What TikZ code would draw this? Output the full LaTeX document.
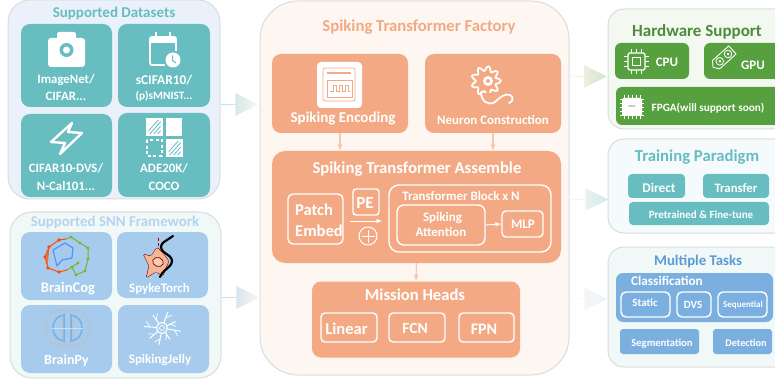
\documentclass[tikz,border=0pt]{standalone}
\usepackage{fontspec}
\setmainfont{Carlito}
\usetikzlibrary{shapes.arrows,positioning,calc}
\definecolor{teal1}{HTML}{67BDC0}
\definecolor{sky1}{HTML}{A6CBEC}
\definecolor{sky2}{HTML}{B3D4F0}
\definecolor{peach1}{HTML}{F3AA84}
\definecolor{peach2}{HTML}{F7C6AC}
\definecolor{leaf1}{HTML}{57A03F}
\definecolor{leaf2}{HTML}{4C8C3A}
\definecolor{blue1}{HTML}{7BAFE0}
\definecolor{blue2}{HTML}{5B9BD5}
\definecolor{edge1}{HTML}{DADDDD}
\definecolor{paleblue}{HTML}{EAF1FA}
\definecolor{paleteal}{HTML}{F1F8F8}
\definecolor{palepeach}{HTML}{FDF6F1}
\definecolor{paleleaf}{HTML}{F3F9F0}
\definecolor{palesky}{HTML}{F5FAFC}
\tikzset{
  panel/.style={draw=edge1,line width=1pt,rounded corners=#1,inner sep=0pt},
  tile/.style={fill=#1,rounded corners=9pt,inner sep=0pt},
  lab/.style 2 args={text=white,font=\bfseries\fontsize{#1}{#2}\selectfont,align=center,inner sep=0pt},
  head/.style 2 args={text=#2,font=\bfseries\fontsize{#1}{#1}\selectfont,inner sep=0pt},
  ring/.style={draw=white,line width=1.4pt,rounded corners=5pt,inner sep=0pt},
  bigarrow/.style={single arrow,single arrow head extend=6pt,single arrow tip angle=53,inner sep=0pt,minimum height=37pt,minimum width=23pt},
  thinarrow/.style={->,>=latex,peach2,line width=1.2pt},
  whitearrow/.style={->,>=latex,white,line width=1pt},
}
\newcommand{\hatchsq}[2]{%
  \fill[white] (#1,#2) rectangle ++(17,18);
  \begin{scope}
    \clip (#1+2.5,#2+2.5) rectangle ++(12,13);
    \foreach \k in {0,4,...,28} {
      \draw[teal1,line width=0.8pt] (#1+\k-2,#2+18) -- (#1+\k+14,#2);
    }
  \end{scope}
}
\begin{document}
\begin{tikzpicture}[x=1pt,y=-1pt]
\useasboundingbox (0,0) rectangle (775,379);

% panels
\node[panel=22pt,fill=paleblue,minimum width=212,minimum height=199] (datasets) at (114,99.5) {};
\node[panel=22pt,fill=paleteal,minimum width=211,minimum height=166] (framework) at (115.5,295) {};
\node[panel=38pt,fill=palepeach,minimum width=309,minimum height=374] (factory) at (414.5,188) {};
\node[panel=16pt,fill=paleleaf,minimum width=190,minimum height=120] (hardware) at (703,69) {};
\node[panel=16pt,fill=palesky,minimum width=190,minimum height=94] (training) at (703,186) {};
\node[panel=16pt,fill=paleteal,minimum width=190,minimum height=120] (tasks) at (703,307) {};

% wide arrows
\node[bigarrow,left color=teal1!45!white,right color=palepeach] (arrowData) at (239.5,104.5) {};
\node[bigarrow,left color=sky1!70!white,right color=palepeach] (arrowSnn) at (240.5,297.5) {};
\node[bigarrow,left color=palepeach,right color=leaf1!28!white] (arrowHw) at (588,76.5) {};
\node[bigarrow,left color=palepeach,right color=teal1!32!white] (arrowTrain) at (589.5,199.5) {};
\node[bigarrow,left color=palepeach,right color=blue1!14!white] (arrowTask) at (588.5,299) {};

% left top
\node[head={15}{teal1}] (datasetsTitle) at (114,13.5) {Supported Datasets};
\node[tile=teal1,minimum width=91,minimum height=83] (imagenet) at (66.5,65.5) {};
\node[tile=teal1,minimum width=92,minimum height=83] (scifar) at (164,65.5) {};
\node[tile=teal1,minimum width=91,minimum height=83] (dvs) at (66.5,155.5) {};
\node[tile=teal1,minimum width=92,minimum height=84] (ade) at (164,155) {};
\node[lab={12.8}{17}] (imagenetText) at (66,87.5) {ImageNet/\\CIFAR...};
\node[lab={13.4}{13.4}] (scifarText) at (164,80) {sCIFAR10/};
\node[lab={11.3}{11.3}] (smnistText) at (164,96.5) {(p)sMNIST...};
\node[lab={12.8}{18}] (dvsText) at (66,177) {CIFAR10-DVS/\\N-Cal101...};
\node[lab={12.8}{18}] (adeText) at (164,177) {ADE20K/\\COCO};

% camera
\fill[white,rounded corners=3pt] (48,38) rectangle (85,67);
\fill[white,rounded corners=2pt] (57,32) rectangle (76,42);
\fill[teal1] (66.5,50) circle (7);
\fill[white] (66.5,50) circle (3.5);
% calendar
\draw[white,line width=1.8pt,rounded corners=2pt] (165,65) -- (150,65) -- (150,37) -- (176,37) -- (176,52);
\fill[white] (150,37) rectangle (176,43);
\draw[white,line width=1.8pt] (156,32) -- (156,37) (170,32) -- (170,37);
\fill[teal1] (173,60) circle (9.5);
\fill[white] (173,60) circle (7.5);
\draw[teal1,line width=1pt] (172.5,55.5) -- (172.5,60.5) -- (176,63);
% lightning
\draw[white,line width=2.4pt,line join=round] (72,123) -- (51,142) -- (65,143) -- (60,154) -- (82,133) -- (68,132) -- cycle;
% squares
\hatchsq{146}{118}
\fill[white] (166,118) rectangle ++(16,18);
\draw[white,line width=1.6pt,dash pattern=on 3pt off 2.6pt] (147,140) rectangle (162,156);
\hatchsq{166}{139}

% left bottom
\node[head={14.9}{sky2}] (frameworkTitle) at (115,222.5) {Supported SNN Framework};
\node[tile=sky1,minimum width=91,minimum height=68] (braincog) at (66.5,266) {};
\node[tile=sky1,minimum width=91,minimum height=66] (spyke) at (162.5,265) {};
\node[tile=sky1,minimum width=91,minimum height=68] (brainpy) at (66.5,339) {};
\node[tile=sky1,minimum width=91,minimum height=68] (jelly) at (163.5,339) {};
\node[lab={14.6}{14.6}] (braincogText) at (68,289) {BrainCog};
\node[lab={13}{13}] (spykeText) at (159.5,289) {SpykeTorch};
\node[lab={14}{14}] (brainpyText) at (66.5,361) {BrainPy};
\node[lab={13}{13}] (jellyText) at (160,360) {SpikingJelly};

% braincog logo
\foreach \k in {0.2,0.4,0.6,0.8} {
  \draw[orange!60!red,line width=0.4pt] (49,247) -- ($(45,257)!\k!(48,268)$);
}
\draw[blue!60!cyan!70!white,line width=1.2pt,line join=round] (57,266) -- (53,250) -- (65,243) -- (73,248) -- (72,258) -- (62,260) -- cycle;
\draw[orange!60!red,line width=1pt] (66,239) -- (59,240) -- (49,247) -- (45,257) -- (48,268) -- (59,272) -- (67,270);
\draw[leaf1!80!yellow,line width=1pt] (66,239) -- (71,237) -- (80,243) -- (88,248) -- (88,259) -- (85,271) -- (76,275) -- (72,267) -- (78,263);
\draw[leaf1!80!yellow,line width=1pt] (67,270) -- (72,267);
\foreach \px/\py in {59/240,49/247,45/257,48/268,59/272} {
  \fill[orange!60!red] (\px,\py) circle (1.8);
}
\foreach \px/\py in {71/237,80/243,88/248,88/259,85/271,76/275,72/267,78/263} {
  \fill[leaf1!80!yellow] (\px,\py) circle (1.6);
}
% spyketorch logo
\fill[peach1!85!white,draw=red!50!black,line width=0.4pt,rounded corners=1.5pt] (143,254) -- (151,256) -- (157,247) -- (163,253) -- (169,261) -- (166,268) -- (163,276) -- (156,272) -- (146,278) -- (149,266) -- cycle;
\draw[red!50!black,line width=0.7pt,fill=peach1!60!white,rotate around={-20:(158,262)}] (158,262) ellipse (5.5 and 4.5);
\draw[red!60!black,line width=0.5pt,densely dashed] (158,238) -- (158,247);
\draw[black,line width=2.2pt,line cap=round,rounded corners=3pt] (173,236) -- (161,244) -- (161,250) -- (172,258) -- (172,264) -- (162,273) -- (160,277);
% brainpy logo
\draw[gray!50,line width=1pt] (66,311) .. controls (56,306) and (45,316) .. (45,328) .. controls (45,340) and (56,350) .. (66,345) .. controls (61,335) and (61,320) .. (66,311);
\draw[gray!50,line width=1pt] (69,311) .. controls (79,306) and (90,316) .. (90,328) .. controls (90,340) and (79,350) .. (69,345) .. controls (74,335) and (74,320) .. (69,311);
\draw[blue2!80!white,line width=1.5pt] (64,315) .. controls (57,316) and (53,321) .. (53,328) .. controls (53,335) and (57,340) .. (64,341) -- cycle;
\draw[blue2!80!white,line width=1.5pt] (71,315) .. controls (78,316) and (82,321) .. (82,328) .. controls (82,335) and (78,340) .. (71,341) -- cycle;
\draw[sky2!70!white,line width=0.6pt] (52,328) -- (83,328);
% spikingjelly logo
\begin{scope}[shift={(162,328)}]
  \draw[white,line width=1.1pt] (0,0) circle (5.5);
  \draw[white,line width=0.7pt] (0,0) circle (2.5);
  \foreach \a/\r in {10/19,55/14,100/17,140/16,185/18,235/16,290/17,335/15} {
    \draw[white,line width=1pt] (\a:5.5) -- (\a:\r);
    \draw[white,line width=0.7pt] (\a:\r-6) -- (\a+18:\r-1);
  }
\end{scope}

% factory
\node[head={16.7}{peach1}] (factoryTitle) at (419,27) {Spiking Transformer Factory};
\node[tile=peach1,minimum width=136,minimum height=79] (encoding) at (340,93.5) {};
\node[tile=peach1,minimum width=136,minimum height=79] (neuron) at (493,93.5) {};
\node[tile=peach1,minimum width=289,minimum height=112,rounded corners=13pt] (assemble) at (416.5,207) {};
\node[tile=peach1,minimum width=208,minimum height=76] (heads) at (416,319.5) {};
\node[lab={15}{15}] (encodingText) at (343,119) {Spiking Encoding};
\node[lab={12.9}{12.9}] (neuronText) at (493,120) {Neuron Construction};
\node[lab={16.7}{16.7}] (assembleText) at (417,169) {Spiking Transformer Assemble};
\node[lab={16.6}{16.6}] (headsText) at (415,295) {Mission Heads};

\draw[thinarrow] (encoding) -- (encoding |- assemble.north);
\draw[thinarrow] (neuron) -- (neuron |- assemble.north);
\draw[thinarrow] (assemble.south) -- (heads.north);

% encoding icon
\fill[white,rounded corners=4pt] (317,62) rectangle (362,108);
\draw[peach1,line width=0.7pt,rounded corners=2pt] (323,68) rectangle (355,101);
\draw[peach1,line width=1.3pt] (327,73) -- (351,73);
\draw[peach1,line width=0.7pt] (327,80) rectangle (352,97);
\draw[peach1,line width=0.7pt] (330,91.5) -- (333,91.5) -- (333,85.5) -- (336,85.5) -- (336,91.5) -- (339,91.5) -- (339,85.5) -- (342,85.5) -- (342,91.5) -- (345,91.5) -- (345,85.5) -- (348,85.5) -- (348,91.5) -- (350,91.5);
% neuron icon
\draw[white,line width=1.8pt,line join=round,shift={(486,81)}] plot[domain=0:360,samples=55] (\x:{12.5+2.5*cos(9*\x)});
\fill[white] (488,81) circle (5);
\fill[peach1] (488,81) circle (2);
\fill[peach1] (483,93) rectangle (492,97);
\draw[white,line width=1.8pt,line cap=round] (481,92) .. controls (481,102) and (489,106) .. (495,102) .. controls (500,97) and (506,93) .. (510,95) .. controls (514,97) and (513,102) .. (509,103);

% assemble inside
\node[ring,minimum width=55,minimum height=50] (patch) at (315.5,219) {};
\node[lab={16.5}{21},align=left,anchor=west] (patchText) at (295,220.5) {Patch\\Embed};
\node[ring,minimum width=26,minimum height=26,rounded corners=3pt] (pe) at (366,202) {};
\node[lab={17}{17}] (peText) at (365,203) {PE};
\node[ring,circle,minimum size=18,line width=1pt] (plus) at (368,236) {};
\draw[white,line width=0.7pt] ([xshift=3pt]plus.west) -- ([xshift=-3pt]plus.east);
\draw[white,line width=0.7pt] ([yshift=-3pt]plus.north) -- ([yshift=3pt]plus.south);
\node[ring,rounded corners=10pt,minimum width=162,minimum height=67] (block) at (470,218.5) {};
\node[lab={12.9}{12.9}] (blockText) at (461,196) {Transformer Block x N};
\node[ring,rounded corners=7pt,minimum width=88,minimum height=40] (attention) at (441,225) {};
\node[lab={13}{14.5}] (attentionText) at (441,224.5) {\hspace*{3pt}Spiking\\Attention};
\node[ring,minimum width=41,minimum height=26,rounded corners=4pt] (mlp) at (522.5,224) {};
\node[lab={13}{13}] (mlpText) at (523,224) {MLP};
\draw[whitearrow,shorten <=6pt,shorten >=6pt] (patch.east |- 0,221) -- (block.west |- 0,221);
\draw[whitearrow] (attention.east) -- (mlp.west);

% mission heads inside
\node[ring,minimum width=56,minimum height=29,rounded corners=4pt] (linear) at (349,327.5) {};
\node[ring,minimum width=56,minimum height=29,rounded corners=4pt] (fcn) at (417,327.5) {};
\node[ring,minimum width=55,minimum height=29,rounded corners=4pt] (fpn) at (486.5,327.5) {};
\node[lab={16.5}{16.5}] (linearText) at (346.5,329) {Linear};
\node[lab={15.5}{15.5}] (fcnText) at (415,328) {FCN};
\node[lab={16}{16}] (fpnText) at (484,329) {FPN};

% hardware
\node[head={17}{leaf2}] (hardwareTitle) at (697,32) {Hardware Support};
\node[tile=leaf1,minimum width=74,minimum height=36,rounded corners=6pt] (cpu) at (652,61) {};
\node[tile=leaf1,minimum width=76,minimum height=36,rounded corners=6pt] (gpu) at (742,61) {};
\node[tile=leaf1,minimum width=164,minimum height=38,rounded corners=6pt] (fpga) at (698,106) {};
\node[lab={13}{13}] (cpuText) at (667,62) {CPU};
\node[lab={13}{13}] (gpuText) at (753,65) {GPU};
\node[lab={11.2}{11.2}] (fpgaText) at (708,108) {FPGA(will support soon)};
% cpu icon
\draw[white,line width=1.2pt,rounded corners=1.5pt] (628,53) rectangle (645,70);
\draw[white,line width=1.2pt] (632.5,57.5) rectangle (640.5,65.5);
\foreach \k in {-5,0,5} {
  \draw[white,line width=1pt] (636.5+\k,49) -- (636.5+\k,53) (636.5+\k,70) -- (636.5+\k,74);
  \draw[white,line width=1pt] (624,61.5+\k) -- (628,61.5+\k) (645,61.5+\k) -- (649,61.5+\k);
}
% gpu icon
\begin{scope}[shift={(723.5,58)},rotate=42]
  \draw[white,line width=0.9pt,line join=round] (-10,-5.5) -- (12,-5.5) -- (12,5.5) -- (-10,5.5) -- (-14,0) -- cycle;
  \foreach \k in {-5,6} {
    \draw[white,line width=0.8pt] (\k,0) circle (3.8);
    \fill[white] (\k,0) circle (1.4);
  }
\end{scope}
% fpga icon
\fill[white,rounded corners=2pt] (622,98) rectangle (642,116);
\foreach \k in {-8,-4,0,4,8} {
  \draw[white,line width=0.9pt] (632+\k,95) -- (632+\k,119);
  \draw[white,line width=0.9pt] (620,107+\k) -- (644,107+\k);
}
\node[text=gray,font=\bfseries\fontsize{3}{3}\selectfont,inner sep=0pt] (fpgaIconText) at (632,107) {FPGA};

% training
\node[head={16.7}{teal1}] (trainingTitle) at (697,157) {Training Paradigm};
\node[tile=teal1,minimum width=57,minimum height=24,rounded corners=4pt] (direct) at (656.5,186) {};
\node[tile=teal1,minimum width=66,minimum height=24,rounded corners=4pt] (transfer) at (736,186) {};
\node[tile=teal1,minimum width=140,minimum height=23,rounded corners=4pt] (pretrained) at (699,213.5) {};
\node[lab={13.3}{13.3}] (directText) at (659,188) {Direct};
\node[lab={12.8}{12.8}] (transferText) at (736,188) {Transfer};
\node[lab={11}{11}] (pretrainedText) at (701,215) {Pretrained \& Fine-tune};

% tasks
\node[head={14.8}{blue2}] (tasksTitle) at (698,261.5) {Multiple Tasks};
\node[tile=blue1,minimum width=157,minimum height=49,rounded corners=7pt] (classification) at (694.5,297.5) {};
\node[lab={13.2}{13.2}] (classificationText) at (667,281) {Classification};
\node[ring,minimum width=49,minimum height=25] (static) at (645.5,304.5) {};
\node[ring,minimum width=34,minimum height=25] (dvsTask) at (694,304.5) {};
\node[ring,minimum width=49,minimum height=25] (sequential) at (742.5,304.5) {};
\node[lab={11}{11}] (staticText) at (645,303) {Static};
\node[lab={11}{11}] (dvsTaskText) at (693,305) {DVS};
\node[lab={9}{9}] (sequentialText) at (743,305) {Sequential};
\node[tile=blue1,minimum width=79,minimum height=25,rounded corners=3pt] (segmentation) at (659.5,341.5) {};
\node[tile=blue1,minimum width=59,minimum height=25,rounded corners=3pt] (detection) at (742.5,341.5) {};
\node[lab={10.6}{10.6}] (segmentationText) at (662,344) {Segmentation};
\node[lab={10.2}{10.2}] (detectionText) at (746,343) {Detection};
\end{tikzpicture}
\end{document}
